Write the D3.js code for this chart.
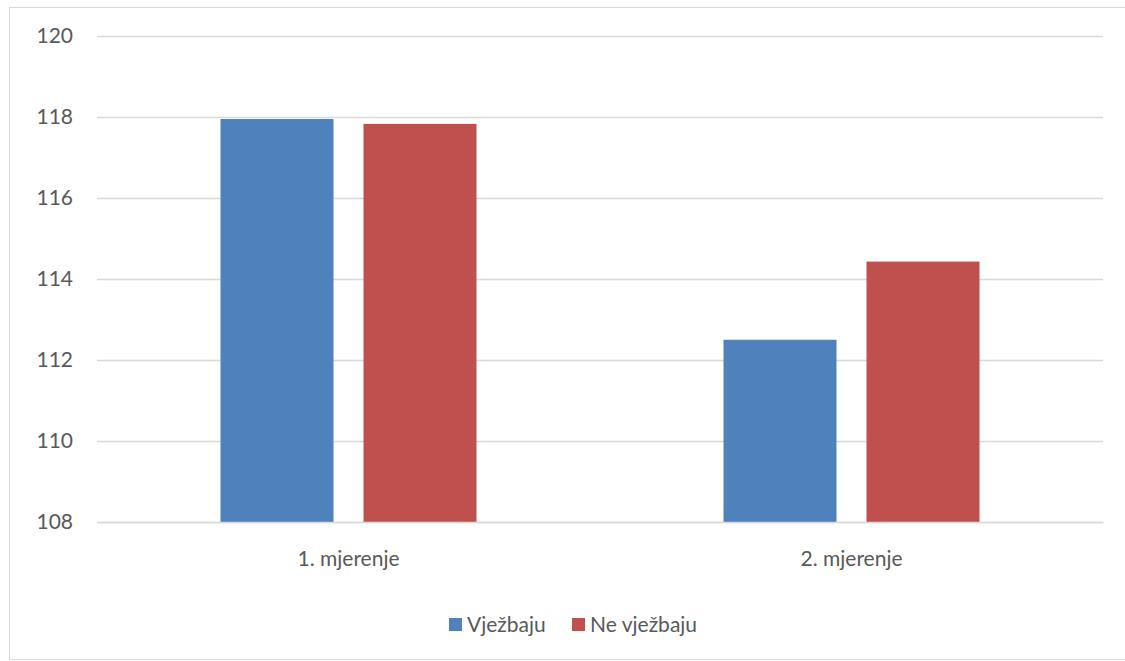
<!DOCTYPE html>
<html>
<head>
<meta charset="utf-8">
<script src="https://cdn.jsdelivr.net/npm/d3@7"></script>
<style>
  body { margin: 0; background: #fff; }
  text { font-family: Lato, "Open Sans", "Liberation Sans", sans-serif; fill: #595959; }
</style>
</head>
<body>
<div id="chart"></div>
<script>
// data
let categories = ['1. mjerenje', '2. mjerenje'];
let seriesNames = ['Vježbaju', 'Ne vježbaju'];
let vjezbaju = [117.95, 112.5];
let neVjezbaju = [117.83, 114.43];
let yTicks = [108, 110, 112, 114, 116, 118, 120];
let colors = ['#4f81bd', '#c0504d'];

let width = 1125, height = 661;
let margin = {top: 36, right: 22, bottom: 139, left: 97};
let innerWidth = width - margin.left - margin.right;
let innerHeight = height - margin.top - margin.bottom;
let fontSize = '21px';

let data = categories.map((c, i) => ({cat: c, values: [vjezbaju[i], neVjezbaju[i]]}));

let svg = d3.select('#chart').append('svg')
    .attr('width', width)
    .attr('height', height);

// outer frame (right edge runs off the picture, as in the original)
svg.append('rect')
    .attr('x', 9.5).attr('y', 7.5)
    .attr('width', 1125).attr('height', 652)
    .attr('fill', 'none')
    .attr('stroke', '#d9d9d9')
    .attr('stroke-width', 1);

let g = svg.append('g')
    .attr('transform', 'translate(' + margin.left + ',' + margin.top + ')');

// scales
let x0 = d3.scaleBand().domain(categories).range([0, innerWidth]).padding(0);
let x1 = d3.scaleBand().domain(seriesNames).range([0, 256]).paddingInner(30 / 143);
let y = d3.scaleLinear().domain([108, 120]).range([innerHeight, 0]);

// gridlines
let yAxis = d3.axisLeft(y).tickValues(yTicks).tickSize(-innerWidth).tickPadding(24);
let ya = g.append('g').attr('class', 'y-axis').call(yAxis);
ya.select('.domain').remove();
ya.selectAll('.tick line').attr('stroke', '#d9d9d9').attr('stroke-width', 1.3);
ya.selectAll('.tick text').attr('font-size', fontSize).style('fill', '#595959');

// bars
let groups = g.selectAll('.group')
    .data(data)
    .join('g')
    .attr('class', 'group')
    .attr('transform', d => 'translate(' + (x0(d.cat) + x0.bandwidth() / 2 - 128) + ',0)');

groups.selectAll('rect')
    .data(d => d.values.map((v, i) => ({name: seriesNames[i], value: v, i: i})))
    .join('rect')
    .attr('x', d => x1(d.name))
    .attr('y', d => y(d.value))
    .attr('width', x1.bandwidth())
    .attr('height', d => y(108) - y(d.value))
    .attr('fill', d => colors[d.i]);

// x axis
let xAxis = d3.axisBottom(x0).tickSize(0).tickPadding(29);
let xa = g.append('g')
    .attr('transform', 'translate(0,' + innerHeight + ')')
    .call(xAxis);
xa.select('.domain').attr('stroke', '#d9d9d9').attr('stroke-width', 1.5);
xa.selectAll('.tick text').attr('font-size', fontSize).style('fill', '#595959');

// legend
let legendX = [449, 572];
let legend = svg.append('g').selectAll('g')
    .data(seriesNames)
    .join('g')
    .attr('transform', (d, i) => 'translate(' + legendX[i] + ',618)');
legend.append('rect')
    .attr('width', 13).attr('height', 13)
    .attr('fill', (d, i) => colors[i]);
legend.append('text')
    .attr('x', 18).attr('y', 14)
    .attr('font-size', fontSize)
    .text(d => d);
</script>
</body>
</html>
